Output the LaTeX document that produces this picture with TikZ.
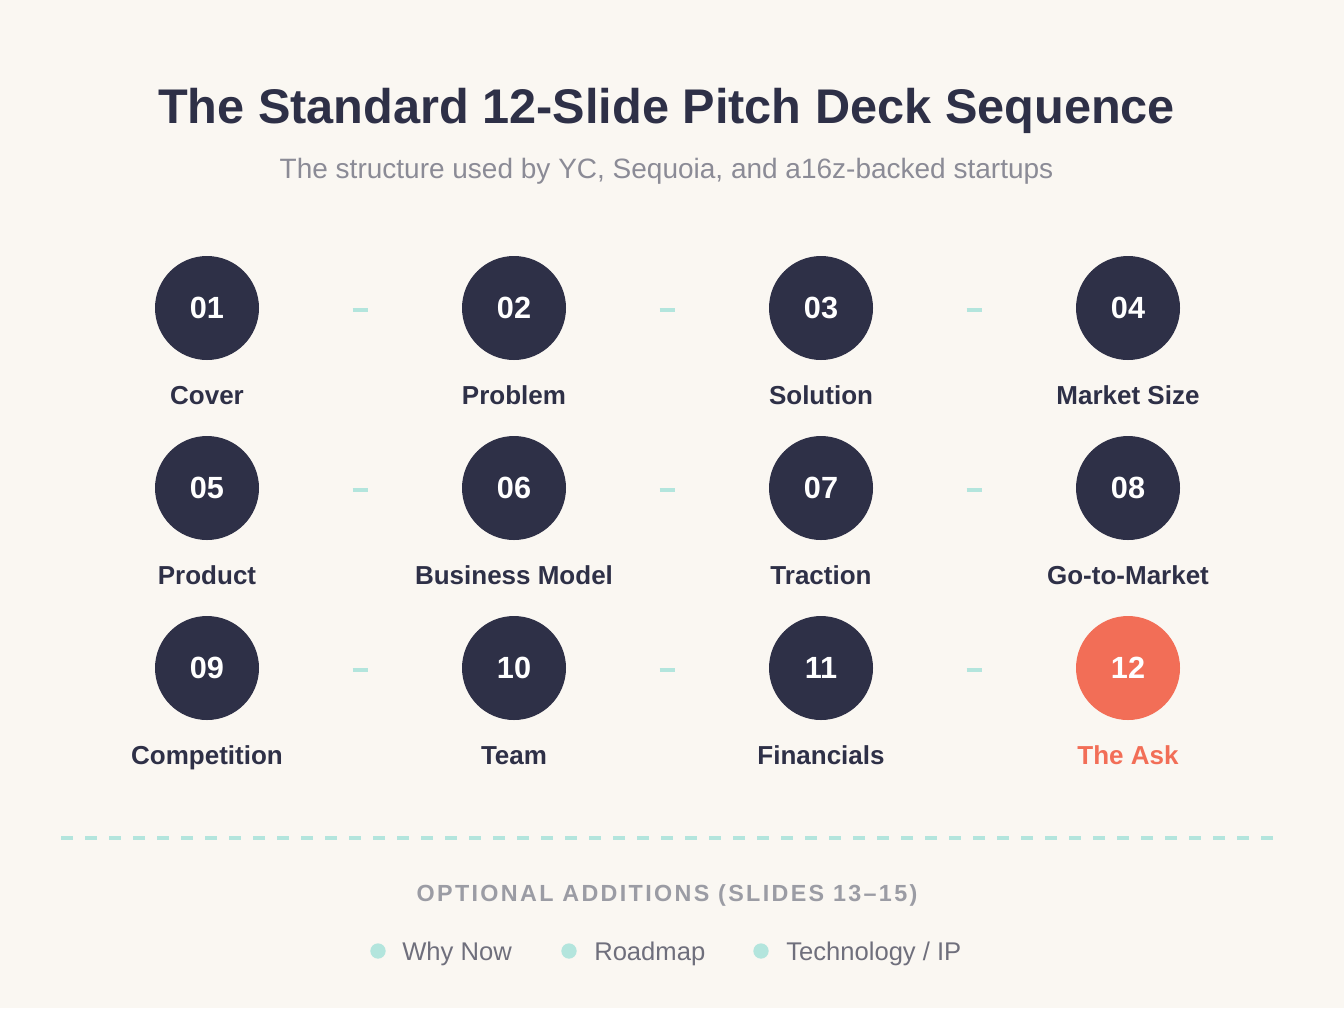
\documentclass[tikz,border=0pt]{standalone}
\usepackage{fontspec}
\setmainfont{Liberation Sans}
\newfontfamily\capsfont[LetterSpace=10]{Liberation Sans}
\usepackage{xcolor}
\usetikzlibrary{calc}

\definecolor{paper}{HTML}{FAF7F2}
\definecolor{ink}{HTML}{2E3047}
\definecolor{coral}{HTML}{F26E57}
\definecolor{mint}{HTML}{B3E5DD}
\definecolor{subgray}{HTML}{8B8B96}
\definecolor{capgray}{HTML}{9B9CA4}
\definecolor{itemgray}{HTML}{6F6F7C}

\begin{document}
\begin{tikzpicture}[x=0.75pt, y=-0.75pt,
  slide/.style={circle, fill=ink, text=white, minimum size=78pt, inner sep=0pt,
    font=\bfseries\fontsize{23pt}{26pt}\selectfont},
  askslide/.style={slide, fill=coral},
  slidename/.style={anchor=base, text=ink, inner sep=0pt,
    font=\bfseries\fontsize{19.5pt}{22pt}\selectfont},
  link/.style={mint, line width=3pt},
  bullet/.style={circle, fill=mint, minimum size=11.5pt, inner sep=0pt},
  extra/.style={anchor=base west, text=itemgray, inner sep=0pt,
    font=\fontsize{19.2pt}{22pt}\selectfont}]
\newcommand{\Rowgap}{180}; % distance between rows, px

% page
\fill[paper] (0,0) rectangle (1344,1008);
\useasboundingbox (0,0) rectangle (1344,1008);

% heading
\node[anchor=base, text=ink, inner sep=0pt, font=\bfseries\fontsize{36.5pt}{40pt}\selectfont]
  (head) at (666.5,123) {The Standard 12-Slide Pitch Deck Sequence};
\node[anchor=base, text=subgray, inner sep=0pt, font=\fontsize{21pt}{24pt}\selectfont]
  (subhead) at (666.5,178) {The structure used by YC, Sequoia, and a16z-backed startups};

% first row
\node[slide] (s01) at (207,308) {01};
\node[slide] (s02) at (514,308) {02};
\node[slide] (s03) at (821,308) {03};
\node[slide] (s04) at (1128,308) {04};
\node[slidename] (n01) at (207,404) {Cover};
\node[slidename] (n02) at (514,404) {Problem};
\node[slidename] (n03) at (821,404) {Solution};
\node[slidename] (n04) at (1128,404) {Market Size};

% second row
\node[slide] (s05) at (207,308 + \Rowgap) {05};
\node[slide] (s06) at (514,308 + \Rowgap) {06};
\node[slide] (s07) at (821,308 + \Rowgap) {07};
\node[slide] (s08) at (1128,308 + \Rowgap) {08};
\node[slidename] (n05) at (207,404 + \Rowgap) {Product};
\node[slidename] (n06) at (514,404 + \Rowgap) {Business Model};
\node[slidename] (n07) at (821,404 + \Rowgap) {Traction};
\node[slidename] (n08) at (1128,404 + \Rowgap) {Go-to-Market};

% third row
\node[slide] (s09) at (207,308 + 2*\Rowgap) {09};
\node[slide] (s10) at (514,308 + 2*\Rowgap) {10};
\node[slide] (s11) at (821,308 + 2*\Rowgap) {11};
\node[askslide] (s12) at (1128,308 + 2*\Rowgap) {12};
\node[slidename] (n09) at (207,404 + 2*\Rowgap) {Competition};
\node[slidename] (n10) at (514,404 + 2*\Rowgap) {Team};
\node[slidename] (n11) at (821,404 + 2*\Rowgap) {Financials};
\node[slidename, text=coral] (n12) at (1128,404 + 2*\Rowgap) {The Ask};

% short links between neighbours (sit 2px under the centre line)
\draw[link] ($(s01)!0.474!(s02)+(0,2)$) -- ($(s01)!0.526!(s02)+(0,2)$);
\draw[link] ($(s02)!0.474!(s03)+(0,2)$) -- ($(s02)!0.526!(s03)+(0,2)$);
\draw[link] ($(s03)!0.474!(s04)+(0,2)$) -- ($(s03)!0.526!(s04)+(0,2)$);
\draw[link] ($(s05)!0.474!(s06)+(0,2)$) -- ($(s05)!0.526!(s06)+(0,2)$);
\draw[link] ($(s06)!0.474!(s07)+(0,2)$) -- ($(s06)!0.526!(s07)+(0,2)$);
\draw[link] ($(s07)!0.474!(s08)+(0,2)$) -- ($(s07)!0.526!(s08)+(0,2)$);
\draw[link] ($(s09)!0.474!(s10)+(0,2)$) -- ($(s09)!0.526!(s10)+(0,2)$);
\draw[link] ($(s10)!0.474!(s11)+(0,2)$) -- ($(s10)!0.526!(s11)+(0,2)$);
\draw[link] ($(s11)!0.474!(s12)+(0,2)$) -- ($(s11)!0.526!(s12)+(0,2)$);

% separator
\coordinate (sepL) at (61,838);
\coordinate (sepR) at (1283,838);
\draw[link, dash pattern=on 9pt off 9pt] (sepL) -- (sepR);

% optional slides
\node[anchor=base, text=capgray, inner sep=0pt, font=\capsfont\bfseries\fontsize{17.5pt}{20pt}\selectfont]
  (optional) at (667,901) {OPTIONAL ADDITIONS (SLIDES 13–15)};
\node[bullet] (b1) at (378,951) {};
\node[bullet] (b2) at (569,951) {};
\node[bullet] (b3) at (761,951) {};
\node[extra] (e1) at (402,960) {Why Now};
\node[extra] (e2) at (594,960) {Roadmap};
\node[extra] (e3) at (786,960) {Technology / IP};
\end{tikzpicture}
\end{document}
